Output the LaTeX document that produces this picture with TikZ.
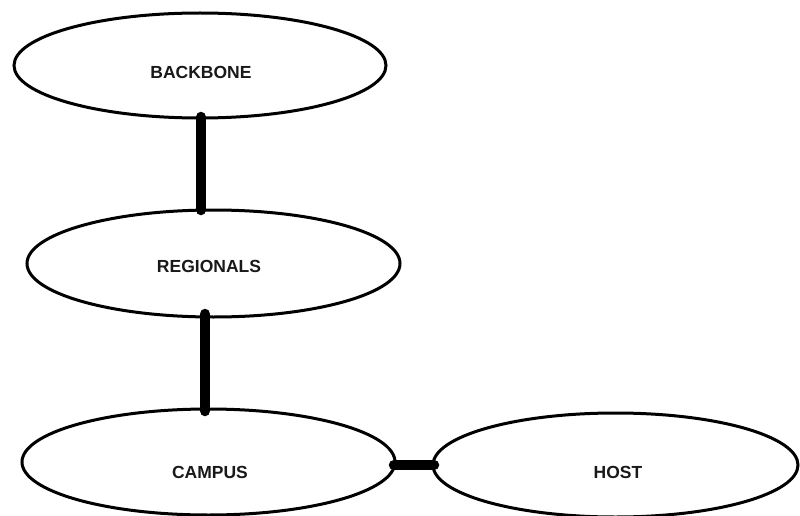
\documentclass[tikz,border=0pt]{standalone}
\usepackage{fontspec}
\setmainfont{Liberation Sans}
\usetikzlibrary{shapes.geometric}
\begin{document}
\begin{tikzpicture}[x=1pt,y=-1pt,
  oval/.style={draw=black,ellipse,line width=3pt,inner sep=0pt,outer sep=0pt,fill=white},
  lbl/.style={font=\fontsize{17.5}{21}\selectfont\bfseries,inner sep=0pt,text=black!90},
  link/.style={line width=10.5pt,line cap=round,draw=black}]
\useasboundingbox (0,0) rectangle (800,516);
\node[oval,minimum width=372pt,minimum height=105pt] (bb) at (200,65.5) {};
\node[oval,minimum width=373pt,minimum height=107pt] (reg) at (213.5,263.5) {};
\node[oval,minimum width=373pt,minimum height=106pt] (cam) at (208.5,462) {};
\node[oval,minimum width=365pt,minimum height=104pt] (host) at (615.5,465) {};
\node[lbl] (tbb) at (201,72) {BACKBONE};
\node[lbl] (treg) at (209,266) {REGIONALS};
\node[lbl] (tcam) at (210,472) {CAMPUS};
\node[lbl] (thost) at (618,472) {HOST};
\coordinate (b1) at ([xshift=1pt,yshift=1pt]bb.south);
\coordinate (r1) at ([xshift=-8.5pt,yshift=3pt]reg.south);
\coordinate (c1) at ([xshift=-3.5pt,yshift=-2pt]cam.north);
\draw[link] (b1) -- (b1 |- reg.north);
\draw[link] (r1) -- (c1);
\draw[link] ([xshift=-1pt]cam.east |- host.west) -- ([xshift=1pt]host.west);
\end{tikzpicture}
\end{document}
